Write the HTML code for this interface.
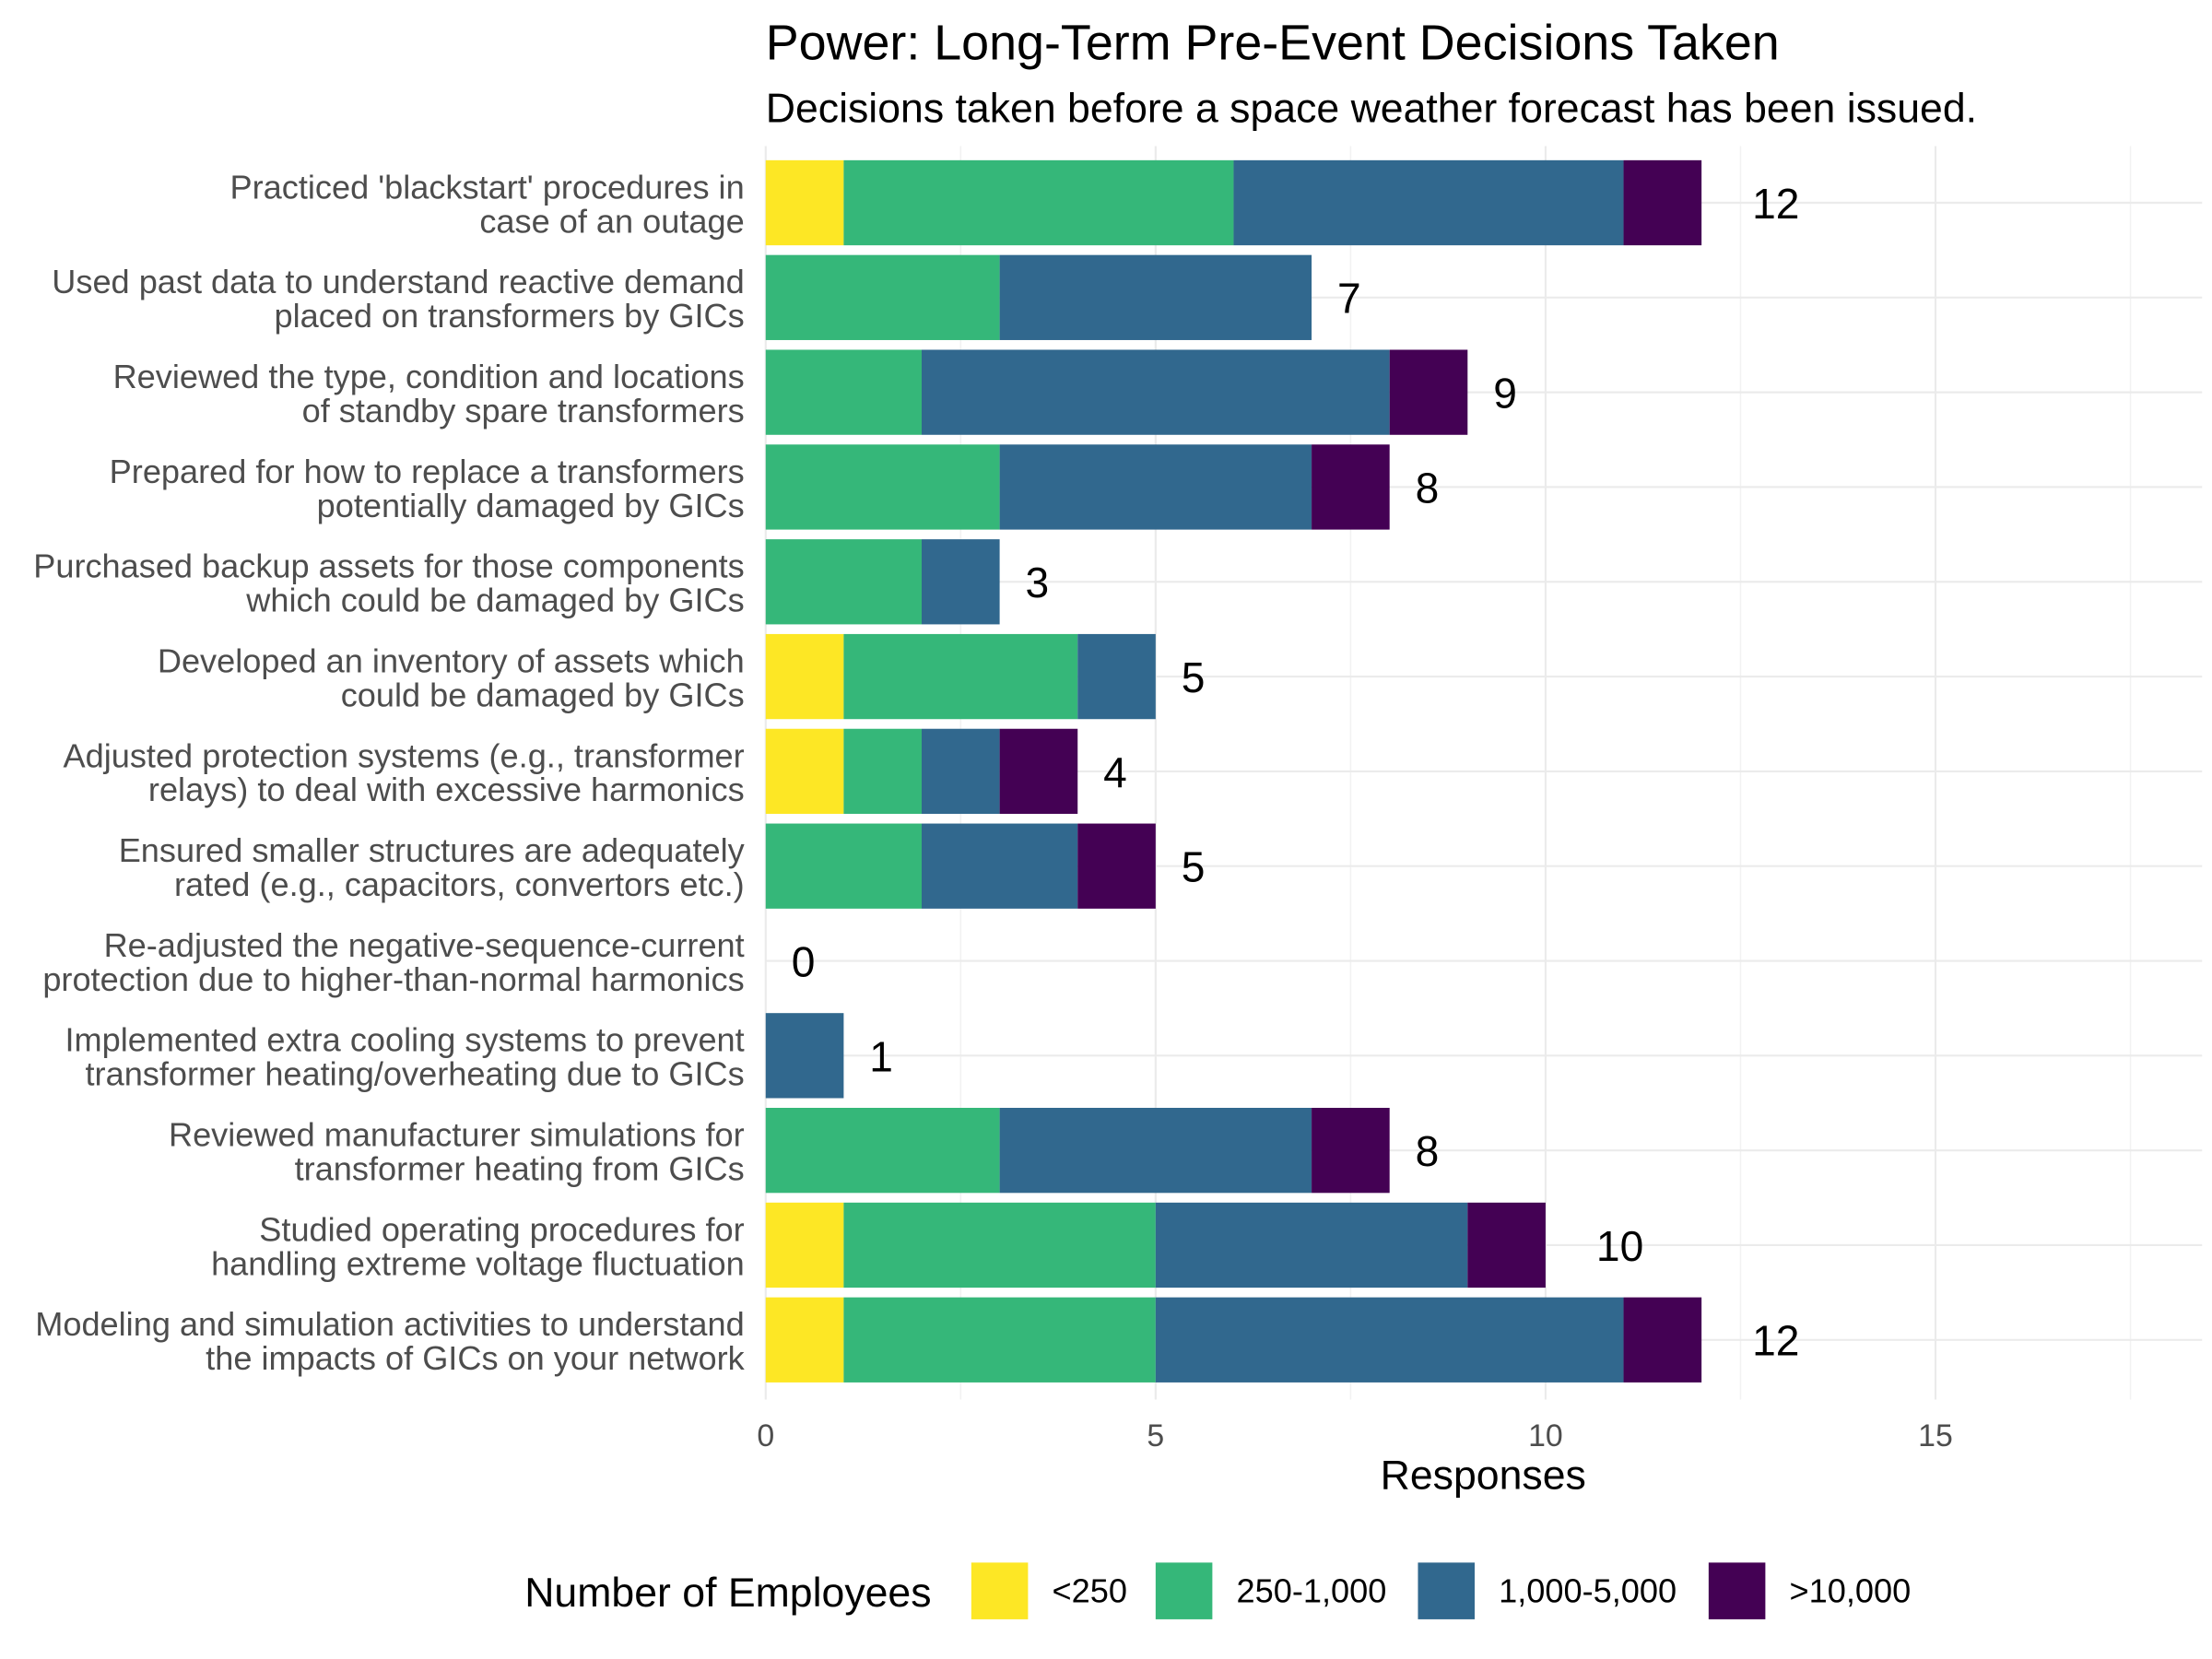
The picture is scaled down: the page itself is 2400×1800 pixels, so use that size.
<!DOCTYPE html>
<html><head><meta charset="utf-8"><style>
html,body{margin:0;padding:0;background:#fff;}
svg{display:block;font-family:"Liberation Sans",Arial,sans-serif;}
</style></head><body>
<svg id="chart" width="2400" height="1800" viewBox="0 0 1560 1170" xmlns="http://www.w3.org/2000/svg">
<rect width="1560" height="1170" fill="#fff"/>
<text x="540" y="42" font-size="35" fill="#000">Power: Long-Term Pre-Event Decisions Taken</text>
<text x="540" y="86" font-size="29" fill="#000">Decisions taken before a space weather forecast has been issued.</text>
<g id="grid"></g>
<g id="bars"></g>
<g id="labels"></g>
<text x="1046" y="1050" font-size="29" text-anchor="middle" fill="#000">Responses</text>
<g id="legend"></g>
</svg>
<script>
const categories = [
 ["Practiced 'blackstart' procedures in","case of an outage"],
 ["Used past data to understand reactive demand","placed on transformers by GICs"],
 ["Reviewed the type, condition and locations","of standby spare transformers"],
 ["Prepared for how to replace a transformers","potentially damaged by GICs"],
 ["Purchased backup assets for those components","which could be damaged by GICs"],
 ["Developed an inventory of assets which","could be damaged by GICs"],
 ["Adjusted protection systems (e.g., transformer","relays) to deal with excessive harmonics"],
 ["Ensured smaller structures are adequately","rated (e.g., capacitors, convertors etc.)"],
 ["Re-adjusted the negative-sequence-current","protection due to higher-than-normal harmonics"],
 ["Implemented extra cooling systems to prevent","transformer heating/overheating due to GICs"],
 ["Reviewed manufacturer simulations for","transformer heating from GICs"],
 ["Studied operating procedures for","handling extreme voltage fluctuation"],
 ["Modeling and simulation activities to understand","the impacts of GICs on your network"]
];
const seriesNames = ["<250","250-1,000","1,000-5,000",">10,000"];
const under250 = [1,0,0,0,0,1,1,0,0,0,0,1,1];
const s250to1000 = [5,3,2,3,2,3,1,2,0,0,3,4,4];
const s1000to5000 = [5,4,6,4,1,1,1,2,0,1,4,4,6];
const over10000 = [1,0,1,1,0,0,1,1,0,0,1,1,1];
const xTicks = [0,5,10,15];
const xMinor = [2.5,7.5,12.5,17.5];
const colors = ["#FDE725","#35B779","#31688E","#440154"];
const series = [under250,s250to1000,s1000to5000,over10000];
const NS="http://www.w3.org/2000/svg";
const x0=540, pxPer=55, yTop=143, step=66.83, barH=60, plotR=1553, plotTop=103, plotBot=987;
const xs=v=>x0+v*pxPer, ys=i=>yTop+i*step;
function mk(t,a,p){const e=document.createElementNS(NS,t);for(const k in a)e.setAttribute(k,a[k]);p.appendChild(e);return e;}
const grid=document.getElementById('grid'),bars=document.getElementById('bars'),labels=document.getElementById('labels');
xMinor.forEach(v=>{const l=mk('line',{x1:xs(v),x2:xs(v),y1:plotTop,y2:plotBot,stroke:'#f2f2f2','stroke-width':1},grid);

});
xTicks.forEach(v=>{const l=mk('line',{x1:xs(v),x2:xs(v),y1:plotTop,y2:plotBot,stroke:'#ebebeb','stroke-width':1.4},grid);


const t=mk('text',{x:xs(v),y:1020,'font-size':22,'text-anchor':'middle',fill:'#4d4d4d'},labels);t.textContent=v;

});
categories.forEach((c,i)=>{const y=ys(i);
const l=mk('line',{x1:x0,x2:plotR,y1:y,y2:y,stroke:'#ebebeb','stroke-width':1.4},grid);


const t=mk('text',{x:525,y:y-3,'font-size':23.5,'text-anchor':'end',fill:'#4d4d4d'},labels);


mk('tspan',{x:525,dy:0},t).textContent=c[0];
mk('tspan',{x:525,dy:24},t).textContent=c[1];
let acc=0;
series.forEach((s,k)=>{const v=s[i];if(v>0){const r=mk('rect',{x:xs(acc),y:y-barH/2,width:v*pxPer,height:barH,fill:colors[k]},bars);

}acc+=v;});
const tl=mk('text',{x:xs(acc+(acc>=10?0.65:0.33)),y:y+11,'font-size':30,fill:'#000'},labels);tl.textContent=acc;


});
const lg=document.getElementById('legend');
const lt=mk('text',{x:370,y:1133,'font-size':29,fill:'#000'},lg);lt.textContent="Number of Employees";


const kx=[685,815,1000,1205];
seriesNames.forEach((n,k)=>{const r=mk('rect',{x:kx[k],y:1102,width:40,height:40,fill:colors[k]},lg);


const t=mk('text',{x:kx[k]+57,y:1130,'font-size':23.5,fill:'#000'},lg);t.textContent=n;

});
</script>
</body></html>
